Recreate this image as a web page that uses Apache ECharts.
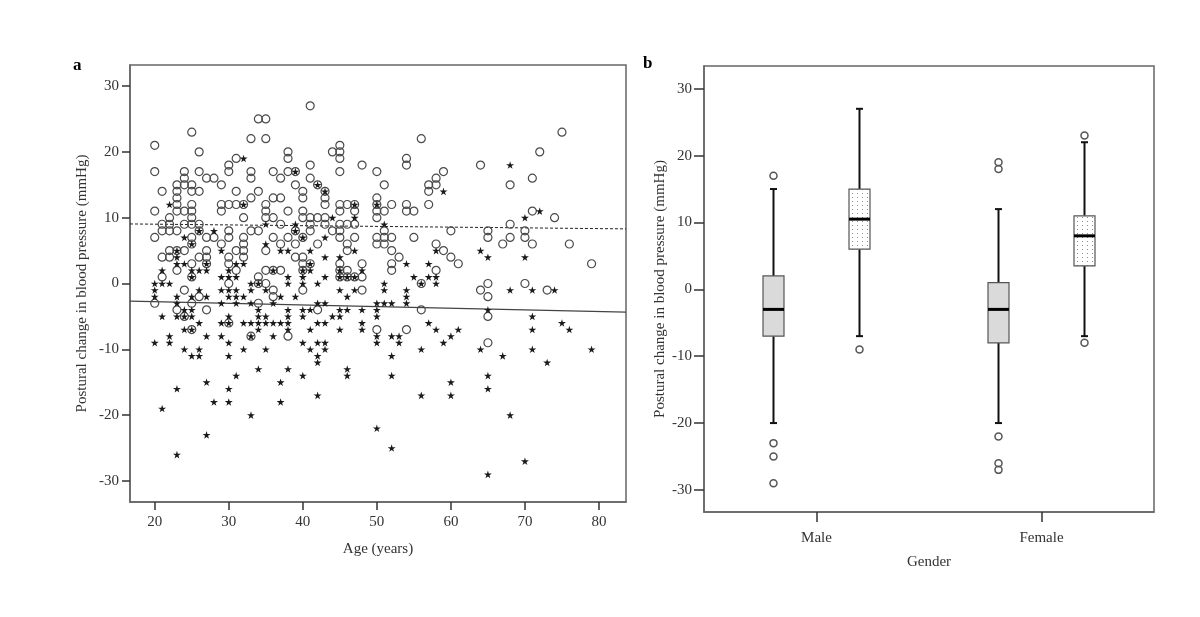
<!DOCTYPE html>
<html><head><meta charset="utf-8">
<script src="https://cdn.jsdelivr.net/npm/echarts@6/dist/echarts.min.js"></script>
<style>html,body{margin:0;padding:0;background:#fff}#c{width:1200px;height:617px}</style>
</head><body><div id="c"></div>
<script>
const FONT = '"Liberation Serif", "Times New Roman", serif';

// ---------- Panel a : scatter (age vs postural change) ----------
const circlePoints = [
 [20,21],[20,17],[20,11],[20,7],[20,-3],
 [21,14],[21,9],[21,8],[21,4],[21,1],
 [22,10],[22,9],[22,8],[22,5],[22,4],
 [23,15],[23,14],[23,13],[23,12],[23,11],[23,8],[23,5],[23,2],[23,-4],
 [24,17],[24,16],[24,15],[24,11],[24,9],[24,5],[24,-1],[24,-5],
 [25,23],[25,15],[25,14],[25,12],[25,11],[25,10],[25,9],[25,7],[25,6],[25,3],[25,1],[25,-3],[25,-7],
 [26,20],[26,17],[26,14],[26,9],[26,8],[26,4],[26,-2],
 [27,16],[27,7],[27,5],[27,4],[27,3],[27,-4],
 [28,16],[28,7],
 [29,15],[29,12],[29,11],[29,6],
 [30,18],[30,17],[30,12],[30,8],[30,7],[30,4],[30,3],[30,0],[30,-6],
 [31,19],[31,14],[31,12],[31,5],[31,2],
 [32,12],[32,10],[32,7],[32,6],[32,5],[32,4],
 [33,22],[33,17],[33,16],[33,13],[33,8],[33,-8],
 [34,25],[34,14],[34,8],[34,1],[34,0],[34,-3],
 [35,25],[35,22],[35,12],[35,11],[35,10],[35,5],[35,2],[35,0],
 [36,17],[36,13],[36,10],[36,7],[36,2],[36,-1],[36,-2],
 [37,16],[37,13],[37,9],[37,6],[37,2],
 [38,20],[38,19],[38,17],[38,11],[38,7],[38,-8],
 [39,17],[39,15],[39,8],[39,6],[39,4],
 [40,14],[40,13],[40,11],[40,10],[40,7],[40,4],[40,3],[40,2],[40,-1],
 [41,27],[41,18],[41,16],[41,10],[41,9],[41,8],[41,3],
 [42,15],[42,10],[42,6],[42,-4],
 [43,14],[43,13],[43,12],[43,10],[43,9],
 [44,20],[44,8],
 [45,21],[45,20],[45,19],[45,17],[45,12],[45,11],[45,9],[45,8],[45,7],[45,3],[45,2],[45,1],
 [46,12],[46,9],[46,6],[46,5],[46,2],[46,1],
 [47,12],[47,11],[47,9],[47,7],[47,1],
 [48,18],[48,3],[48,1],[48,-1],
 [50,17],[50,13],[50,12],[50,11],[50,10],[50,7],[50,6],[50,-7],
 [51,15],[51,11],[51,8],[51,7],[51,6],
 [52,12],[52,7],[52,5],[52,3],[52,2],
 [53,4],
 [54,19],[54,18],[54,12],[54,11],[54,-7],
 [55,11],[55,7],
 [56,22],[56,0],[56,-4],
 [57,15],[57,14],[57,12],
 [58,16],[58,15],[58,6],[58,2],
 [59,17],[59,5],
 [60,8],[60,4],
 [61,3],
 [64,18],[64,-1],
 [65,8],[65,7],[65,0],[65,-2],[65,-5],[65,-9],
 [67,6],
 [68,15],[68,9],[68,7],
 [70,8],[70,7],[70,0],
 [71,16],[71,11],[71,6],
 [72,20],[73,-1],[74,10],[75,23],[76,6],[79,3]
];
const starPoints = [
 [20,0],[20,-1],[20,-2],[20,-9],
 [21,2],[21,0],[21,-5],[21,-19],
 [22,12],[22,0],[22,-8],[22,-9],
 [23,5],[23,4],[23,3],[23,-2],[23,-3],[23,-5],[23,-16],[23,-26],
 [24,7],[24,3],[24,-4],[24,-5],[24,-7],[24,-10],
 [25,6],[25,2],[25,1],[25,-2],[25,-4],[25,-5],[25,-7],[25,-11],
 [26,8],[26,2],[26,-1],[26,-6],[26,-10],[26,-11],
 [27,3],[27,2],[27,-2],[27,-8],[27,-15],[27,-23],
 [28,8],[28,-18],
 [29,5],[29,1],[29,-1],[29,-3],[29,-6],[29,-8],
 [30,2],[30,1],[30,-1],[30,-2],[30,-5],[30,-6],[30,-9],[30,-11],[30,-16],[30,-18],
 [31,3],[31,1],[31,-1],[31,-2],[31,-3],[31,-14],
 [32,19],[32,12],[32,3],[32,-2],[32,-6],[32,-10],
 [33,0],[33,-1],[33,-3],[33,-6],[33,-8],[33,-20],
 [34,0],[34,-4],[34,-5],[34,-6],[34,-7],[34,-13],
 [35,9],[35,6],[35,-1],[35,-5],[35,-6],[35,-10],
 [36,2],[36,-3],[36,-6],[36,-8],
 [37,5],[37,-2],[37,-6],[37,-15],[37,-18],
 [38,5],[38,1],[38,0],[38,-4],[38,-5],[38,-6],[38,-7],[38,-13],
 [39,17],[39,9],[39,8],[39,-2],
 [40,7],[40,2],[40,1],[40,0],[40,-4],[40,-5],[40,-9],[40,-14],
 [41,5],[41,3],[41,2],[41,-4],[41,-7],[41,-10],
 [42,15],[42,0],[42,-3],[42,-6],[42,-9],[42,-11],[42,-12],[42,-17],
 [43,14],[43,7],[43,4],[43,1],[43,-3],[43,-6],[43,-9],[43,-10],
 [44,10],[44,-5],
 [45,4],[45,2],[45,1],[45,-1],[45,-4],[45,-5],[45,-7],
 [46,1],[46,-2],[46,-4],[46,-13],[46,-14],
 [47,12],[47,10],[47,5],[47,1],[47,-1],
 [48,2],[48,-4],[48,-6],[48,-7],
 [50,12],[50,-3],[50,-4],[50,-5],[50,-8],[50,-9],[50,-22],
 [51,9],[51,0],[51,-1],[51,-3],
 [52,-3],[52,-8],[52,-11],[52,-14],[52,-25],
 [53,-8],[53,-9],
 [54,3],[54,-1],[54,-2],[54,-3],
 [55,1],
 [56,0],[56,-10],[56,-17],
 [57,3],[57,1],[57,-6],
 [58,5],[58,1],[58,0],[58,-7],
 [59,14],[59,-9],
 [60,-8],[60,-15],[60,-17],
 [61,-7],
 [64,5],[64,-10],
 [65,4],[65,-4],[65,-14],[65,-16],[65,-29],
 [67,-11],
 [68,18],[68,-1],[68,-20],
 [70,10],[70,4],[70,-27],
 [71,-1],[71,-5],[71,-7],[71,-10],
 [72,11],[73,-12],[74,-1],[75,-6],[76,-7],[79,-10]
];
// fitted lines (end points at the axis limits)
const dashedFit = [[16.66, 9.05], [83.65, 8.3]];
const solidFit = [[16.66, -2.67], [83.65, -4.35]];
const ageTicks = [20, 30, 40, 50, 60, 70, 80];
const bpTicks = [-30, -20, -10, 0, 10, 20, 30];

// ---------- Panel b : box plots by gender ----------
const genders = ['Male', 'Female'];
// [min whisker, Q1, median, Q3, max whisker]
const boxGray = [[-20, -7, -3, 2, 15], [-20, -8, -3, 1, 12]];
const boxDotted = [[-7, 6, 10.5, 15, 27], [-7, 3.5, 8, 11, 22]];
const outliersGray = [['Male', 17], ['Male', -23], ['Male', -25], ['Male', -29],
  ['Female', 19], ['Female', 18], ['Female', -22], ['Female', -26], ['Female', -27]];
const outliersDotted = [['Male', -9], ['Female', 23], ['Female', -8]];

// dotted fill pattern
const pat = document.createElement('canvas');
pat.width = 5; pat.height = 4;
const pg = pat.getContext('2d');
pg.fillStyle = '#ffffff'; pg.fillRect(0, 0, 5, 4);
pg.fillStyle = '#8c8c8c'; pg.fillRect(2, 1, 1, 1);
const dottedFill = { image: pat, repeat: 'repeat' };

const STAR = 'path://M50,0 L61,35 L98,35 L68,57 L79,91 L50,70 L21,91 L32,57 L2,35 L39,35 Z';
const OFFSET = 43;

function boxRenderer(offset, fill) {
  return function (params, api) {
    const c = api.value(0);
    const pMin = api.coord([c, api.value(1)]);
    const pQ1 = api.coord([c, api.value(2)]);
    const pMed = api.coord([c, api.value(3)]);
    const pQ3 = api.coord([c, api.value(4)]);
    const pMax = api.coord([c, api.value(5)]);
    const x = pMin[0] + offset;
    const hw = 10.5, cap = 3.5;
    const wl = { stroke: '#111', lineWidth: 2 };
    return { type: 'group', children: [
      { type: 'line', shape: { x1: x, y1: pMax[1], x2: x, y2: pQ3[1] }, style: wl },
      { type: 'line', shape: { x1: x, y1: pQ1[1], x2: x, y2: pMin[1] }, style: wl },
      { type: 'line', shape: { x1: x - cap, y1: pMax[1], x2: x + cap, y2: pMax[1] }, style: wl },
      { type: 'line', shape: { x1: x - cap, y1: pMin[1], x2: x + cap, y2: pMin[1] }, style: wl },
      { type: 'rect', shape: { x: x - hw, y: pQ3[1], width: 2 * hw, height: pQ1[1] - pQ3[1] },
        style: { fill: fill, stroke: '#555', lineWidth: 1.2 } },
      { type: 'line', shape: { x1: x - hw, y1: pMed[1], x2: x + hw, y2: pMed[1] },
        style: { stroke: '#000', lineWidth: 3 } }
    ] };
  };
}

const txt = { color: '#333', fontFamily: FONT };
const frame = '#666';

const chart = echarts.init(document.getElementById('c'), null, { renderer: 'canvas' });
chart.setOption({
  animation: false,
  backgroundColor: '#fff',
  graphic: [
    { type: 'text', left: 73, top: 57, style: { text: 'a', font: 'bold 17px ' + FONT, fill: '#000' } },
    { type: 'text', left: 643, top: 55, style: { text: 'b', font: 'bold 17px ' + FONT, fill: '#000' } }
  ],
  grid: [
    { left: 130, top: 65, width: 496, height: 437, show: true, borderColor: frame, borderWidth: 1.5, backgroundColor: 'transparent' },
    { left: 704, top: 66, width: 450, height: 446, show: true, borderColor: frame, borderWidth: 1.5, backgroundColor: 'transparent' }
  ],
  xAxis: [
    { gridIndex: 0, type: 'value', min: 16.66, max: 83.65,
      axisLine: { show: true, onZero: false, lineStyle: { color: frame, width: 1.5 } },
      splitLine: { show: false },
      axisTick: { show: true, length: 8, customValues: ageTicks, lineStyle: { color: '#333', width: 1.5 } },
      axisLabel: { customValues: ageTicks, margin: 13, fontSize: 15, ...txt },
      name: 'Age (years)', nameLocation: 'middle', nameGap: 40,
      nameTextStyle: { fontSize: 15, ...txt } },
    { gridIndex: 1, type: 'category', data: genders, boundaryGap: true,
      axisLine: { show: true, onZero: false, lineStyle: { color: frame, width: 1.5 } },
      splitLine: { show: false },
      axisTick: { show: true, alignWithLabel: true, length: 10, lineStyle: { color: '#333', width: 1.5 } },
      axisLabel: { margin: 19, fontSize: 15, ...txt },
      name: 'Gender', nameLocation: 'middle', nameGap: 43,
      nameTextStyle: { fontSize: 15, ...txt } }
  ],
  yAxis: [
    { gridIndex: 0, type: 'value', min: -33.2, max: 33.2,
      axisLine: { show: true, onZero: false, lineStyle: { color: frame, width: 1.5 } },
      splitLine: { show: false },
      axisTick: { show: true, length: 8, customValues: bpTicks, lineStyle: { color: '#333', width: 1.5 } },
      axisLabel: { customValues: bpTicks, margin: 11, fontSize: 15, ...txt },
      name: 'Postural change in blood pressure (mmHg)', nameLocation: 'middle', nameGap: 40,
      nameTextStyle: { fontSize: 15, ...txt } },
    { gridIndex: 1, type: 'value', min: -33.3, max: 33.4,
      axisLine: { show: true, onZero: false, lineStyle: { color: frame, width: 1.5 } },
      splitLine: { show: false },
      axisTick: { show: true, length: 10, customValues: bpTicks, lineStyle: { color: '#333', width: 1.5 } },
      axisLabel: { customValues: bpTicks, margin: 12, fontSize: 15, ...txt },
      name: 'Postural change in blood pressure (mmHg)', nameLocation: 'middle', nameGap: 36,
      nameTextStyle: { fontSize: 15, ...txt } }
  ],
  series: [
    { type: 'line', xAxisIndex: 0, yAxisIndex: 0, data: dashedFit, showSymbol: false, silent: true,
      lineStyle: { color: '#222', width: 1, type: [3, 2] }, z: 1 },
    { type: 'line', xAxisIndex: 0, yAxisIndex: 0, data: solidFit, showSymbol: false, silent: true,
      lineStyle: { color: '#444', width: 1.3 }, z: 1 },
    { type: 'scatter', xAxisIndex: 0, yAxisIndex: 0, data: circlePoints, symbol: 'circle', symbolSize: 8,
      itemStyle: { color: 'rgba(0,0,0,0)', borderColor: '#4a4a4a', borderWidth: 1.2, opacity: 1 }, z: 3, silent: true },
    { type: 'scatter', xAxisIndex: 0, yAxisIndex: 0, data: starPoints, symbol: STAR, symbolSize: 8,
      symbolKeepAspect: true, itemStyle: { color: '#1a1a1a', opacity: 1 }, z: 4, silent: true },

    { type: 'custom', xAxisIndex: 1, yAxisIndex: 1, silent: true,
      renderItem: boxRenderer(-OFFSET, '#dadada'),
      encode: { x: 0, y: [1, 2, 3, 4, 5] },
      data: boxGray.map((b, i) => [i].concat(b)) },
    { type: 'custom', xAxisIndex: 1, yAxisIndex: 1, silent: true,
      renderItem: boxRenderer(OFFSET, dottedFill),
      encode: { x: 0, y: [1, 2, 3, 4, 5] },
      data: boxDotted.map((b, i) => [i].concat(b)) },
    { type: 'scatter', xAxisIndex: 1, yAxisIndex: 1, data: outliersGray, symbol: 'circle', symbolSize: 7,
      symbolOffset: [-OFFSET, 0], silent: true,
      itemStyle: { color: 'rgba(0,0,0,0)', borderColor: '#555', borderWidth: 1.5, opacity: 1 } },
    { type: 'scatter', xAxisIndex: 1, yAxisIndex: 1, data: outliersDotted, symbol: 'circle', symbolSize: 7,
      symbolOffset: [OFFSET, 0], silent: true,
      itemStyle: { color: 'rgba(0,0,0,0)', borderColor: '#555', borderWidth: 1.5, opacity: 1 } }
  ]
});
</script>
</body></html>
